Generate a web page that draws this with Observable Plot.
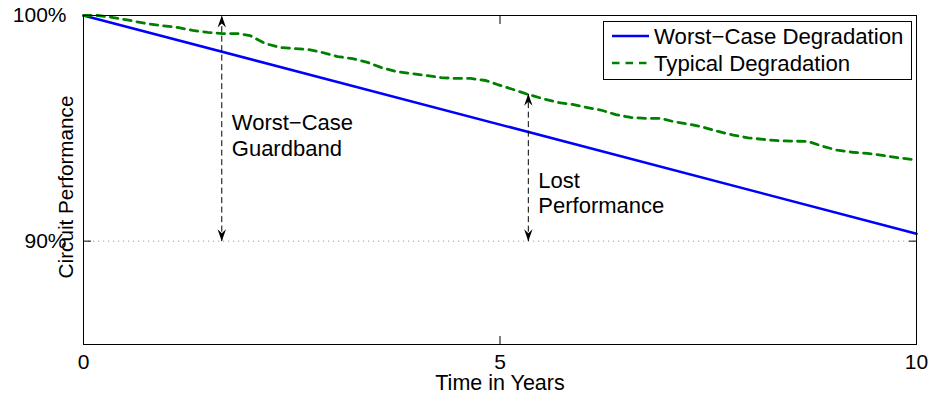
<!DOCTYPE html>
<html>
<head>
<meta charset="utf-8">
<script src="https://cdn.jsdelivr.net/npm/d3@7"></script>
<script src="https://cdn.jsdelivr.net/npm/@observablehq/plot@0.6"></script>
<style>
  html, body { margin: 0; padding: 0; background: #fff; }
  #wrap { position: relative; width: 930px; height: 398px; font-family: "Liberation Sans", Arial, Helvetica, sans-serif; }
  #legend { position: absolute; left: 603px; top: 21px; }
</style>
</head>
<body>
<div id="wrap"><div id="chart"></div><div id="legend"></div></div>
<script>
// ---- data ----
const xDomain = [0, 10];
const yDomain = [85.42, 100];
const xTicks = [0, 5, 10];
const yTicks = [90, 100];
const gridLevels = [90];

const worstYears = [0, 10];
const worstPerf = [100, 90.33];

const typYears = [0,0.17,0.36,0.56,0.74,0.92,1.13,1.31,1.49,1.67,1.85,2.0,2.18,2.36,2.52,2.7,2.87,3.05,3.23,3.41,3.57,3.75,3.93,4.11,4.29,4.47,4.65,4.83,4.97,5.16,5.34,5.51,5.69,5.87,6.05,6.23,6.39,6.57,6.75,6.93,7.08,7.29,7.44,7.62,7.8,7.98,8.16,8.34,8.52,8.7,8.87,9.05,9.23,9.41,9.59,9.77,9.95,10];
const typPerf = [100,100,99.91,99.78,99.65,99.56,99.47,99.34,99.25,99.2,99.2,99.11,98.76,98.58,98.54,98.49,98.36,98.18,98.09,97.92,97.7,97.52,97.43,97.34,97.25,97.21,97.21,97.12,96.94,96.72,96.5,96.32,96.15,96.06,95.92,95.79,95.61,95.48,95.44,95.44,95.3,95.17,95.05,94.86,94.7,94.58,94.51,94.45,94.43,94.42,94.21,94.03,93.94,93.89,93.8,93.7,93.62,93.6];

const arrowX = [1.66, 5.34];
const arrowLow = [90, 90];
const arrowHigh = [100, 96.53];

const noteText = ["Worst\u2212Case\nGuardband", "Lost\nPerformance"];
const noteX = [1.66, 5.34];
const noteY = [94.7, 92.17];

const seriesNames = ["Worst\u2212Case Degradation", "Typical Degradation"];
const seriesColors = ["#0000ff", "#008000"];
const seriesDash = [null, "7.5,6"];

const xLabel = "Time in Years";
const yLabel = "Circuit Performance";

// ---- build tables ----
const worstRows = worstYears.map((x, i) => ({x, y: worstPerf[i]}));
const typRows = typYears.map((x, i) => ({x, y: typPerf[i]}));
const arrows = arrowX.map((x, i) => ({x, lo: arrowLow[i], hi: arrowHigh[i]}));
const heads = arrows.flatMap(a => [{x: a.x, y: a.hi, rot: 0}, {x: a.x, y: a.lo, rot: 180}]);
const notes = noteText.map((t, i) => ({t, x: noteX[i], y: noteY[i]}));

const arrowHead = {
  draw(ctx) {
    ctx.moveTo(0, 0);
    ctx.lineTo(4.2, 12);
    ctx.lineTo(0, 8);
    ctx.lineTo(-4.2, 12);
    ctx.closePath();
  }
};

const FONT = '"Liberation Sans", Arial, Helvetica, sans-serif';

const chart = Plot.plot({
  width: 930,
  height: 398,
  marginLeft: 83,
  marginRight: 14,
  marginTop: 15,
  marginBottom: 54,
  style: {fontFamily: FONT, fontSize: "21px", color: "#000", background: "#fff"},
  x: {domain: xDomain, label: null},
  y: {domain: yDomain, label: null},
  marks: [
    Plot.ruleY(gridLevels, {stroke: "#9a9a9a", strokeDasharray: "1.2,3.8"}),
    Plot.line(worstRows, {x: "x", y: "y", stroke: seriesColors[0], strokeWidth: 2.6}),
    Plot.line(typRows, {x: "x", y: "y", stroke: seriesColors[1], strokeWidth: 2.8, strokeDasharray: seriesDash[1]}),
    Plot.link(arrows, {x1: "x", x2: "x", y1: "lo", y2: "hi", stroke: "#000", strokeWidth: 1, strokeDasharray: "6,3.5"}),
    Plot.dot(heads, {x: "x", y: "y", rotate: "rot", symbol: arrowHead, fill: "#000", stroke: "none"}),
    Plot.text(notes, {x: "x", y: "y", text: "t", textAnchor: "start", lineAnchor: "middle", dx: 10, fontSize: 22, lineHeight: 1.18, fill: "#000"}),
    Plot.axisX({ticks: xTicks, anchor: "bottom", tickSize: -8, fill: "none", label: null}),
    Plot.axisX({ticks: xTicks, anchor: "top", tickSize: -8, fill: "none", label: null}),
    Plot.axisY({ticks: yTicks, anchor: "left", tickSize: -8, fill: "none", label: null}),
    Plot.axisY({ticks: yTicks, anchor: "right", tickSize: -8, fill: "none", label: null}),
    Plot.axisX({ticks: xTicks, anchor: "bottom", tickSize: 0, tickPadding: 10, label: null, fontSize: 21}),
    Plot.axisY({ticks: yTicks, anchor: "left", tickSize: 0, tickPadding: 17, tickFormat: d => d + "%", label: null, fontSize: 21}),
    Plot.text([xLabel], {frameAnchor: "bottom", text: d => d, dy: 39, textAnchor: "middle", lineAnchor: "middle", fontSize: 21.5}),
    Plot.text([yLabel], {frameAnchor: "left", text: d => d, rotate: -90, dx: -17, dy: 7, textAnchor: "middle", lineAnchor: "middle", fontSize: 20.7}),
    Plot.frame({stroke: "#000", strokeWidth: 1})
  ]
});
document.getElementById("chart").appendChild(chart);

// ---- legend (inside plot, top-right) ----
const lg = d3.select("#legend").append("svg")
  .attr("width", 309).attr("height", 59)
  .style("font-family", FONT).style("display", "block");
lg.append("rect").attr("x", 0.5).attr("y", 0.5).attr("width", 308).attr("height", 58)
  .attr("fill", "#fff").attr("stroke", "#000").attr("stroke-width", 1);
seriesNames.forEach((name, i) => {
  const cy = 15 + i * 27;
  lg.append("line").attr("x1", 9).attr("x2", 46).attr("y1", cy).attr("y2", cy)
    .attr("stroke", seriesColors[i]).attr("stroke-width", 2.6)
    .attr("stroke-dasharray", seriesDash[i]);
  lg.append("text").attr("x", 51).attr("y", cy + 8).attr("font-size", 22.2).attr("fill", "#000").text(name);
});
</script>
</body>
</html>
